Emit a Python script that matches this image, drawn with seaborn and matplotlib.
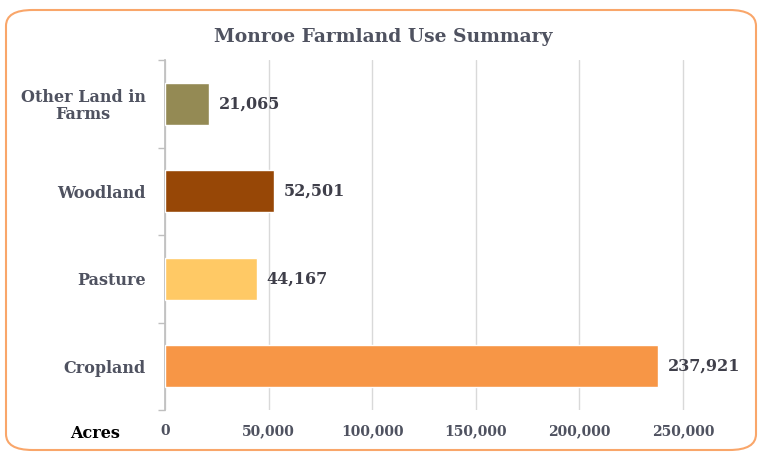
import matplotlib
matplotlib.use("Agg")
import matplotlib.pyplot as plt
from matplotlib.patches import FancyBboxPatch
import numpy as np
import pandas as pd
import seaborn as sns

categories = ["Other Land in\nFarms", "Woodland", "Pasture", "Cropland"]
acres = [21065, 52501, 44167, 237921]
bar_colors = ["#948A54", "#974706", "#FFC965", "#F79646"]
x_ticks = [0, 50000, 100000, 150000, 200000, 250000]

sns.set_theme(style="white")
plt.rcParams["font.family"] = ["DejaVu Serif"]
text_color = "#4F5260"

df = pd.DataFrame({"category": categories, "acres": acres})

fig = plt.figure(figsize=(7.61, 4.54), dpi=100)
ax = fig.add_axes([165 / 761, 1 - 410 / 454, (685 - 165) / 761, 350 / 454])

sns.barplot(data=df, x="acres", y="category", hue="category", palette=bar_colors,
            order=categories, legend=False, width=0.48, saturation=1, ax=ax, zorder=3)

ax.set_xlim(0, 251000)
ax.set_ylim(3.5, -0.5)
ax.set_xticks(x_ticks)
ax.set_xticklabels([f"{v:,}" for v in x_ticks], fontsize=10, fontweight="bold", color=text_color)
ax.set_yticks(range(len(categories)))
ax.set_yticklabels(categories, fontsize=11.5, fontweight="bold", color=text_color,
                   linespacing=1.0, multialignment="center")
ax.set_yticks(np.arange(-0.5, len(categories), 1.0), minor=True)
ax.tick_params(axis="y", which="major", length=0, pad=14)
ax.tick_params(axis="y", which="minor", length=5, color="#BFBFBF", width=1, left=True)
ax.tick_params(axis="x", length=0, pad=10)
ax.grid(axis="x", color="#D9D9D9", linewidth=1, zorder=0)
ax.set_xlabel("")
ax.set_ylabel("")
for s in ["top", "right", "bottom"]:
    ax.spines[s].set_visible(False)
ax.spines["left"].set_color("#BFBFBF")

for i, v in enumerate(acres):
    ax.text(v + 5000, i, f"{v:,}", va="center", ha="left", fontsize=11.5,
            fontweight="bold", color="#3F3F4A")

fig.text(95 / 761, 1 - 434 / 454, "Acres", ha="center", va="center",
         fontsize=11.5, fontweight="bold", color="black")
fig.text(383 / 761, 1 - 37 / 454, "Monroe Farmland Use Summary", ha="center",
         va="center", fontsize=13.5, fontweight="bold", color=text_color)

border = FancyBboxPatch((6 / 761, 4 / 454), 750 / 761, 440 / 454,
                        boxstyle="round,pad=0,rounding_size=0.035",
                        transform=fig.transFigure, facecolor="none",
                        edgecolor="#F9A66A", linewidth=1.5)
fig.patches.append(border)

fig.savefig("out.png", dpi=100)
